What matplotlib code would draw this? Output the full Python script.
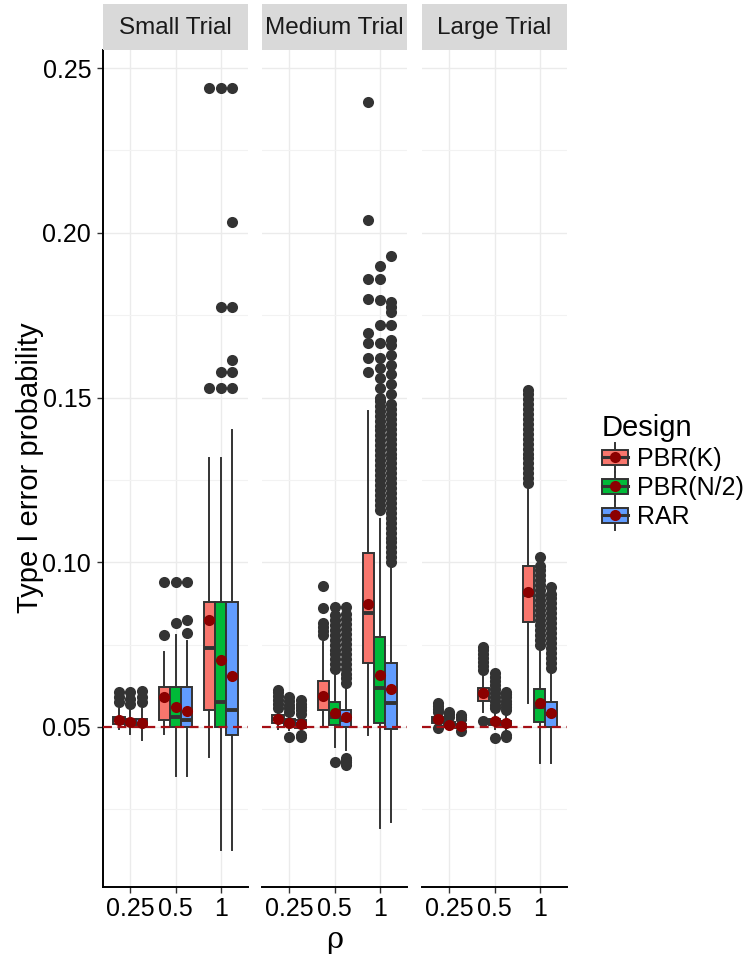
import matplotlib
matplotlib.use("Agg")
import matplotlib.pyplot as plt
from matplotlib.patches import Rectangle
from matplotlib.lines import Line2D
from matplotlib.legend_handler import HandlerBase

plt.rcParams['font.family'] = ['Liberation Sans', 'DejaVu Sans']

trials = ['Small Trial', 'Medium Trial', 'Large Trial']
rhos = ['0.25', '0.5', '1']
designs = ['PBR(K)', 'PBR(N/2)', 'RAR']
fills = ['#F8766D', '#00BA38', '#619CFF']

# box statistics, indexed [trial][rho][design]
q1 = [[[.0510, .0505, .0500], [.0520, .0500, .0500], [.0550, .0500, .0475]],
      [[.0512, .0502, .0498], [.0552, .0506, .0500], [.0694, .0512, .0494]],
      [[.0512, .0502, .0497], [.0580, .0505, .0500], [.0819, .0515, .0500]]]
med = [[[.0520, .0515, .0510], [.0590, .0530, .0520], [.0740, .0575, .0550]],
       [[.0524, .0512, .0508], [.0596, .0530, .0520], [.0846, .0618, .0573]],
       [[.0521, .0508, .0503], [.0600, .0512, .0508], [.0900, .0560, .0540]]]
q3 = [[[.0530, .0525, .0525], [.0620, .0620, .0620], [.0880, .0880, .0880]],
      [[.0536, .0524, .0520], [.0640, .0576, .0552], [.1028, .0773, .0694]],
      [[.0530, .0515, .0510], [.0618, .0525, .0518], [.0989, .0615, .0576]]]
whislo = [[[.0495, .0480, .0460], [.0480, .0350, .0350], [.0410, .0125, .0125]],
          [[.0495, .0490, .0485], [.0500, .0440, .0430], [.0476, .0193, .0210]],
          [[.0500, .0495, .0490], [.0545, .0495, .0490], [.0573, .0390, .0390]]]
whishi = [[[.0555, .0550, .0555], [.0728, .0780, .0760], [.1315, .1315, .1400]],
          [[.0552, .0540, .0535], [.0758, .0670, .0627], [.1460, .1130, .0990]],
          [[.0540, .0525, .0520], [.0664, .0550, .0540], [.1229, .0740, .0660]]]
means = [[[.0522, .0515, .0512], [.0590, .0560, .0547], [.0825, .0703, .0655]],
         [[.0524, .0511, .0508], [.0594, .0543, .0530], [.0873, .0658, .0615]],
         [[.0524, .0506, .0502], [.0603, .0518, .0512], [.0910, .0573, .0542]]]

fliers_small = [
    [[.0575, .0590, .0605], [.0570, .0585, .0605], [.0575, .0590, .0610]],
    [[.0780, .0940], [.0816, .0940], [.0785, .0825, .0940]],
    [[.1530, .2440], [.1530, .1578, .1775, .2440],
     [.1530, .1578, .1614, .1775, .2033, .2440]],
]
fliers_medium = [
    [[.0558, .0570, .0582, .0594, .0606, .0612],
     [.0470, .0545, .0556, .0567, .0578, .0590],
     [.0470, .0476, .0540, .0550, .0560, .0571, .0582]],
    [[.0780, .0792, .0804, .0816, .0860, .0928],
     [.0394, .0675, .0690, .0705, .0720, .0735, .0750, .0765, .0780, .0795,
      .0810, .0825, .0840, .0865],
     [.0385, .0392, .0399, .0405, .0632, .0647, .0662, .0677, .0692, .0707,
      .0722, .0737, .0752, .0767, .0782, .0797, .0812, .0827, .0842, .0864]],
    [[.1577, .1620, .1666, .1696, .1800, .1860, .2040, .2397],
     [.1160, .1175, .1190, .1205, .1220, .1235, .1250, .1265, .1280, .1295,
      .1310, .1325, .1340, .1355, .1370, .1385, .1400, .1415, .1430, .1445,
      .1460, .1475, .1490, .1500, .1530, .1560, .1590, .1620, .1666, .1720,
      .1796, .1860, .1900],
     [.1000, .1015, .1030, .1045, .1060, .1075, .1090, .1105, .1120, .1135,
      .1150, .1165, .1180, .1195, .1210, .1225, .1240, .1255, .1270, .1285,
      .1300, .1315, .1330, .1345, .1360, .1375, .1390, .1405, .1420, .1435,
      .1450, .1465, .1480, .1510, .1540, .1570, .1600, .1630, .1660, .1675,
      .1720, .1760, .1775, .1790, .1930]],
]
fliers_large = [
    [[.0497, .0545, .0555, .0565, .0573],
     [.0530, .0538, .0545],
     [.0487, .0524, .0530, .0536]],
    [[.0518, .0672, .0684, .0696, .0708, .0720, .0732, .0744],
     [.0467, .0556, .0568, .0580, .0592, .0604, .0616, .0628, .0640, .0652, .0664],
     [.0470, .0475, .0550, .0560, .0570, .0580, .0590, .0600, .0606]],
    [[.1240, .1255, .1270, .1285, .1300, .1315, .1330, .1345, .1360, .1375,
      .1390, .1405, .1420, .1435, .1450, .1465, .1480, .1495, .1510, .1523],
     [.0750, .0765, .0780, .0795, .0810, .0825, .0840, .0855, .0870, .0885,
      .0900, .0915, .0930, .0945, .0960, .0975, .0990, .1016],
     [.0680, .0695, .0710, .0725, .0740, .0755, .0770, .0785, .0800, .0815,
      .0830, .0845, .0860, .0875, .0890, .0905, .0925]],
]
fliers = [fliers_small, fliers_medium, fliers_large]

alpha_level = 0.05
yticks = [0.05, 0.10, 0.15, 0.20, 0.25]
yminor = [0.025, 0.075, 0.125, 0.175, 0.225]

edge = '#333333'
W, H = 748, 959
fig = plt.figure(figsize=(W / 100, H / 100), dpi=100)

panel_x = [103, 262, 422]
panel_w = 145
top, bottom = 50, 887
dodge = [-0.25, 0.0, 0.25]

for i, trial in enumerate(trials):
    ax = fig.add_axes([panel_x[i] / W, 1 - bottom / H, panel_w / W, (bottom - top) / H])
    ax.set_xlim(0.4, 3.6)
    ax.set_ylim(0.0014, 0.2555)
    ax.set_axisbelow(True)
    ax.set_yticks(yticks)
    ax.set_yticks(yminor, minor=True)
    ax.set_xticks([1, 2, 3])
    ax.set_xticklabels(rhos)
    ax.grid(True, which='major', color='#EBEBEB', linewidth=1.0)
    ax.grid(True, which='minor', axis='y', color='#F2F2F2', linewidth=0.8)
    ax.tick_params(which='minor', length=0)
    ax.tick_params(axis='x', length=4.5, width=1.0, color=edge, labelsize=18, pad=3)
    for s in ['top', 'right']:
        ax.spines[s].set_visible(False)
    ax.spines['bottom'].set_linewidth(1.4)
    if i == 0:
        ax.set_yticklabels(['0.05', '0.10', '0.15', '0.20', '0.25'])
        ax.tick_params(axis='y', length=4.5, width=1.0, color=edge, labelsize=18, pad=4)
        ax.spines['left'].set_linewidth(1.4)
    else:
        ax.tick_params(axis='y', length=0, labelleft=False)
        ax.spines['left'].set_visible(False)

    for j in range(3):
        stats = []
        pos = []
        for k in range(3):
            stats.append(dict(q1=q1[i][j][k], med=med[i][j][k], q3=q3[i][j][k],
                              whislo=whislo[i][j][k], whishi=whishi[i][j][k],
                              fliers=fliers[i][j][k]))
            pos.append(j + 1 + dodge[k])
        bp = ax.bxp(stats, positions=pos, widths=0.25, patch_artist=True,
                    showcaps=False, manage_ticks=False,
                    boxprops=dict(edgecolor=edge, linewidth=1.4),
                    whiskerprops=dict(color=edge, linewidth=1.4),
                    medianprops=dict(color=edge, linewidth=2.8),
                    flierprops=dict(marker='o', markerfacecolor=edge,
                                    markeredgecolor='none', markersize=8))
        for k, box in enumerate(bp['boxes']):
            box.set_facecolor(fills[k])
        ax.plot(pos, means[i][j], 'o', color='#8B0000', markersize=8,
                markeredgecolor='none', zorder=6)

    ax.axhline(alpha_level, color='#A50F15', linestyle=(0, (4, 2.5)), linewidth=1.6, zorder=5)

    sax = fig.add_axes([panel_x[i] / W, 1 - top / H, panel_w / W, 46 / H])
    sax.set_facecolor('#D9D9D9')
    sax.set_xticks([])
    sax.set_yticks([])
    for s in sax.spines.values():
        s.set_visible(False)
    sax.text(0.5, 0.47, trial, ha='center', va='center', fontsize=17.5,
             color='#1A1A1A', transform=sax.transAxes)

fig.text(30 / W, 1 - 468 / H, 'Type I error probability', rotation=90,
         ha='center', va='center', fontsize=21)
fig.text(335 / W, 1 - 940 / H, 'ρ', ha='center', va='center', fontsize=21,
         family=['DejaVu Serif'])


class BoxKey(HandlerBase):
    def create_artists(self, legend, orig_handle, xdescent, ydescent, width, height,
                       fontsize, trans):
        x0, y0 = -xdescent, -ydescent
        cx, cy = x0 + width / 2, y0 + height / 2
        arts = [Line2D([cx, cx], [y0 - 0.3 * height, y0 + 1.3 * height],
                       color=edge, linewidth=1.4, transform=trans),
                Rectangle((x0, y0 + 0.1 * height), width, 0.8 * height,
                          facecolor=orig_handle.get_facecolor(), edgecolor=edge,
                          linewidth=1.4, transform=trans),
                Line2D([x0, x0 + width], [cy, cy], color=edge, linewidth=2.2,
                       transform=trans),
                Line2D([cx], [cy], marker='o', color='#8B0000', markersize=8,
                       markeredgecolor='none', transform=trans)]
        return arts


handles = [Rectangle((0, 0), 1, 1, facecolor=c) for c in fills]
leg = fig.legend(handles, designs, handler_map={Rectangle: BoxKey()},
                 loc='upper left', bbox_to_anchor=(602 / W, 1 - 414 / H),
                 frameon=False, fontsize=18, title='Design', title_fontsize=21,
                 handlelength=1.05, handleheight=0.75, handletextpad=0.35,
                 labelspacing=0.2, borderpad=0, borderaxespad=0, alignment='left')

fig.savefig('out.png', dpi=100)
